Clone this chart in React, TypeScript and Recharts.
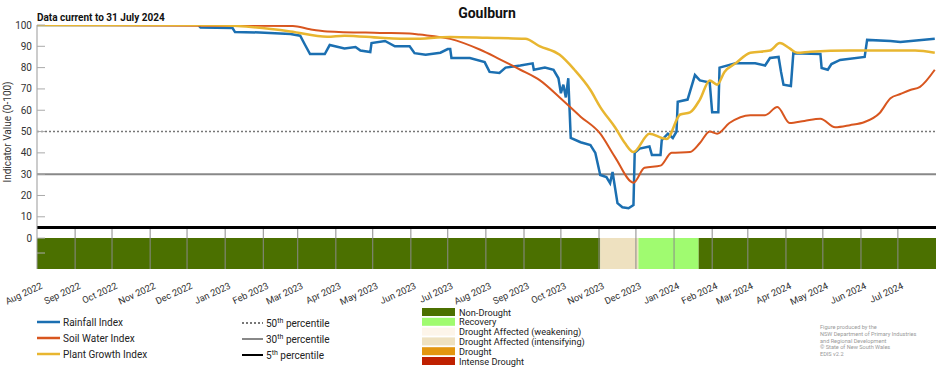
import {
	ComposedChart,
	Line,
	XAxis,
	YAxis,
	ReferenceLine,
	ReferenceArea,
} from "recharts";

// rainfall index (daily data, sampled at the step changes)
const rainfallDates = [
	"2022-08-01", "2022-12-10", "2022-12-12", "2023-01-07", "2023-01-09", "2023-01-29", "2023-02-23",
	"2023-03-03", "2023-03-07", "2023-03-11", "2023-03-23", "2023-03-27", "2023-04-08", "2023-04-17",
	"2023-04-21", "2023-04-29", "2023-04-30", "2023-05-11", "2023-05-19", "2023-05-31", "2023-06-04",
	"2023-06-13", "2023-06-25", "2023-07-01", "2023-07-03", "2023-07-04", "2023-07-19", "2023-07-31",
	"2023-08-04", "2023-08-12", "2023-08-17", "2023-08-29", "2023-09-08", "2023-09-09", "2023-09-18",
	"2023-09-25", "2023-09-29", "2023-10-01", "2023-10-03", "2023-10-05", "2023-10-07", "2023-10-09",
	"2023-10-17", "2023-10-25", "2023-10-29", "2023-11-02", "2023-11-07", "2023-11-10", "2023-11-12",
	"2023-11-16", "2023-11-20", "2023-11-25", "2023-11-29", "2023-11-30", "2023-12-04", "2023-12-12",
	"2023-12-14", "2023-12-21", "2023-12-22", "2023-12-27", "2023-12-31", "2024-01-03", "2024-01-04",
	"2024-01-12", "2024-01-18", "2024-01-22", "2024-01-30", "2024-02-01", "2024-02-06", "2024-02-07",
	"2024-02-20", "2024-03-07", "2024-03-15", "2024-03-19", "2024-03-26", "2024-03-28", "2024-03-30",
	"2024-04-05", "2024-04-07", "2024-04-29", "2024-04-30", "2024-05-05", "2024-05-08", "2024-05-15",
	"2024-06-04", "2024-06-06", "2024-06-25", "2024-07-03", "2024-07-31",
];
const rainfallValues = [
	100, 100, 98.8, 98.6, 96.7, 96.5, 95.8,
	95, 90.6, 86.4, 86.4, 90.6, 89, 89.7,
	88, 87.3, 91.5, 92.5, 90, 90, 86.8,
	86, 87, 88.7, 88.7, 84.5, 84.5, 82.6,
	78, 77.5, 80, 81, 82, 79, 80,
	79, 75, 68, 72, 66, 75, 47,
	45, 43.7, 40, 29.6, 28.6, 25.8, 31,
	16.4, 14.5, 14, 15.5, 40, 42, 43,
	39, 39, 46, 49, 47, 50, 64,
	65, 76.5, 74, 73, 59, 59, 80,
	82, 82, 81, 84.5, 85, 78, 72,
	71.4, 86.8, 86.4, 79.8, 79, 81.7, 83.6,
	85, 93, 92.5, 92, 93.5,
];

const soilDates = [
	"2022-08-01", "2023-02-25", "2023-03-11", "2023-03-25", "2023-05-07", "2023-05-31", "2023-06-08",
	"2023-07-03", "2023-07-27", "2023-08-12", "2023-08-29", "2023-09-14", "2023-09-30", "2023-10-17",
	"2023-11-02", "2023-11-14", "2023-11-29", "2023-12-08", "2023-12-21", "2023-12-30", "2024-01-14",
	"2024-01-22", "2024-01-30", "2024-02-05", "2024-02-15", "2024-03-03", "2024-03-15", "2024-03-25",
	"2024-04-04", "2024-04-16", "2024-04-29", "2024-05-11", "2024-05-23", "2024-06-04", "2024-06-16",
	"2024-06-25", "2024-07-03", "2024-07-11", "2024-07-19", "2024-07-31",
];
const soilValues = [
	100, 99.5, 98, 97, 96.3, 96, 95.5,
	93.5, 88.5, 84, 79, 74, 66, 57,
	49, 38, 26, 33, 34, 40, 40.4,
	44.6, 50, 49, 54, 57.7, 57.7, 61.5,
	54, 55, 56, 52, 53, 54.5, 58.6,
	65.6, 67.6, 69.5, 71, 79,
];

const plantDates = [
	"2022-08-01", "2022-12-20", "2023-01-11", "2023-02-23", "2023-03-25", "2023-04-08", "2023-05-07",
	"2023-06-02", "2023-07-03", "2023-08-02", "2023-09-02", "2023-09-14", "2023-09-30", "2023-10-12",
	"2023-10-25", "2023-11-02", "2023-11-14", "2023-11-22", "2023-11-29", "2023-12-12", "2023-12-22",
	"2023-12-26", "2024-01-06", "2024-01-14", "2024-01-22", "2024-01-30", "2024-02-05", "2024-02-11",
	"2024-02-20", "2024-03-03", "2024-03-19", "2024-03-27", "2024-04-04", "2024-04-10", "2024-04-21",
	"2024-05-23", "2024-06-16", "2024-07-15", "2024-07-31",
];
const plantValues = [
	100, 100, 99.5, 97, 94.5, 95, 94,
	93.5, 94.4, 94, 93.5, 90, 86, 79,
	69.5, 61.5, 52, 44.6, 40.4, 49, 47,
	46.5, 58, 59, 65, 74, 72, 78,
	82, 87, 88, 91.5, 89, 87, 87.5,
	88, 88, 88, 87,
];

const bandStarts = ["2022-08-01", "2023-11-02", "2023-12-03", "2024-01-21"];
const bandEnds = ["2023-11-02", "2023-12-03", "2024-01-21", "2024-08-01"];
const bandCats = ["Non-Drought", "Drought Affected (intensifying)", "Recovery", "Non-Drought"];

const monthTicks = [
	"2022-08-01", "2022-09-01", "2022-10-01", "2022-11-01", "2022-12-01", "2023-01-01",
	"2023-02-01", "2023-03-01", "2023-04-01", "2023-05-01", "2023-06-01", "2023-07-01",
	"2023-08-01", "2023-09-01", "2023-10-01", "2023-11-01", "2023-12-01", "2024-01-01",
	"2024-02-01", "2024-03-01", "2024-04-01", "2024-05-01", "2024-06-01", "2024-07-01",
];
const MONTHS = ["Jan", "Feb", "Mar", "Apr", "May", "Jun", "Jul", "Aug", "Sep", "Oct", "Nov", "Dec"];
const yTicks = [-7, 0, 10, 20, 30, 40, 50, 60, 70, 80, 90, 100];

const categories = [
	{ name: "Non-Drought", color: "#4b7000" },
	{ name: "Recovery", color: "#a0fb70" },
	{ name: "Drought Affected (weakening)", color: "#fdf5ea" },
	{ name: "Drought Affected (intensifying)", color: "#eee1c0" },
	{ name: "Drought", color: "#e3960f" },
	{ name: "Intense Drought", color: "#bf2000" },
];

const series = [
	{ name: "Rainfall Index", color: "#1b6fb1", width: 2.5 },
	{ name: "Soil Water Index", color: "#d8561f", width: 2 },
	{ name: "Plant Growth Index", color: "#e8b630", width: 2.5 },
];

const toT = (d: string) => Date.parse(d + "T00:00:00Z");
const zip = (dates: string[], vals: number[]) => dates.map((d, i) => ({ t: toT(d), v: vals[i] }));

const rainfallData = zip(rainfallDates, rainfallValues);
const soilData = zip(soilDates, soilValues);
const plantData = zip(plantDates, plantValues);

const T0 = toT("2022-08-01");
const T1 = toT("2024-08-01");
const YMIN = -14.5;
const PLOT_LEFT = 37;
const FONT = "Roboto, 'DejaVu Sans', sans-serif";

const fmtMonth = (t: number) => {
	const d = new Date(t);
	return `${MONTHS[d.getUTCMonth()]} ${d.getUTCFullYear()}`;
};

const XTick = ({ x, y, payload }: any) => (
	<text
		transform={`translate(${x + 6},${y + 19}) rotate(-25)`}
		textAnchor="end"
		fontSize={9.3}
		fill="#333"
		fontFamily={FONT}
	>
		{fmtMonth(payload.value)}
	</text>
);

const YTick = ({ y, payload }: any) => (
	<g>
		<line x1={PLOT_LEFT} x2={PLOT_LEFT + 8} y1={y} y2={y} stroke="#aaa" strokeWidth={1} />
		{payload.value >= 0 ? (
			<text x={PLOT_LEFT - 5} y={y + 3.5} textAnchor="end" fontSize={10} fill="#333" fontFamily={FONT}>
				{payload.value}
			</text>
		) : null}
	</g>
);

const catColor = (name: string) => categories.find((c) => c.name === name)!.color;

export default function App() {
	return (
		<div
			style={{
				position: "absolute",
				left: 0,
				top: 0,
				width: 952,
				height: 370,
				background: "#fff",
				fontFamily: FONT,
			}}
		>
			<ComposedChart width={952} height={370} margin={{ top: 25, right: 16, bottom: 71, left: 7 }}>
				<XAxis
					type="number"
					dataKey="t"
					domain={[T0, T1]}
					ticks={monthTicks.map(toT)}
					interval={0}
					tick={<XTick />}
					tickLine={false}
					axisLine={false}
					tickSize={0}
					tickMargin={0}
					height={30}
					allowDataOverflow
				/>
				<YAxis
					type="number"
					domain={[YMIN, 100]}
					ticks={yTicks}
					interval={0}
					tick={<YTick />}
					tickLine={false}
					axisLine={{ stroke: "#999", strokeWidth: 1 }}
					width={30}
					allowDataOverflow
				/>
				{bandCats.map((c, i) => (
					<ReferenceArea
						key={`band-${i}`}
						x1={toT(bandStarts[i])}
						x2={toT(bandEnds[i])}
						y1={YMIN}
						y2={0}
						fill={catColor(c)}
						fillOpacity={1}
						stroke="none"
					/>
				))}
				{monthTicks.slice(1).map((d) => (
					<ReferenceLine
						key={`grid-${d}`}
						segment={[
							{ x: toT(d), y: YMIN },
							{ x: toT(d), y: 5 },
						]}
						stroke="#8a8a8a"
						strokeWidth={1}
					/>
				))}
				<ReferenceLine y={50} stroke="#777" strokeWidth={1.5} strokeDasharray="2 2" />
				<ReferenceLine y={30} stroke="#888" strokeWidth={2} />
				<ReferenceLine y={5} stroke="#000" strokeWidth={3} />
				<Line
					data={rainfallData}
					dataKey="v"
					type="linear"
					stroke={series[0].color}
					strokeWidth={series[0].width}
					dot={false}
					isAnimationActive={false}
				/>
				<Line
					data={soilData}
					dataKey="v"
					type="monotone"
					stroke={series[1].color}
					strokeWidth={series[1].width}
					dot={false}
					isAnimationActive={false}
				/>
				<Line
					data={plantData}
					dataKey="v"
					type="monotone"
					stroke={series[2].color}
					strokeWidth={series[2].width}
					dot={false}
					isAnimationActive={false}
				/>
			</ComposedChart>
			<svg
				width={952}
				height={370}
				style={{ position: "absolute", left: 0, top: 0, pointerEvents: "none" }}
				fontFamily={FONT}
			>
				<text x={487} y={18} textAnchor="middle" fontSize={14} fontWeight="bold" fill="#111">
					Goulburn
				</text>
				<text x={37} y={21} fontSize={10} fontWeight="bold" fill="#111">
					Data current to 31 July 2024
				</text>
				<text
					transform="translate(11,132) rotate(-90)"
					textAnchor="middle"
					fontSize={10}
					fill="#333"
				>
					Indicator Value (0-100)
				</text>
				{series.map((s, i) => (
					<g key={s.name}>
						<line x1={37} x2={60} y1={322 + i * 16} y2={322 + i * 16} stroke={s.color} strokeWidth={2.5} />
						<text x={63} y={325.5 + i * 16} fontSize={10} fill="#222">
							{s.name}
						</text>
					</g>
				))}
				{[
					{ n: "50", dash: "2 2", color: "#777" },
					{ n: "30", dash: undefined, color: "#888" },
					{ n: "5", dash: undefined, color: "#000" },
				].map((p, i) => (
					<g key={p.n}>
						<line
							x1={242}
							x2={263}
							y1={323 + i * 16}
							y2={323 + i * 16}
							stroke={p.color}
							strokeWidth={2}
							strokeDasharray={p.dash}
						/>
						<text x={266} y={327 + i * 16} fontSize={10} fill="#222">
							{p.n}
							<tspan dy={-4} fontSize={7}>
								th
							</tspan>
							<tspan dy={4}> percentile</tspan>
						</text>
					</g>
				))}
				{categories.map((c, i) => (
					<g key={c.name}>
						<rect x={422} y={308 + i * 9.8} width={33} height={8} fill={c.color} />
						<text x={459} y={315.5 + i * 9.8} fontSize={9.2} fill="#222">
							{c.name}
						</text>
					</g>
				))}
				{[
					"Figure produced by the",
					"NSW Department of Primary Industries",
					"and Regional Development",
					"\u00a9 State of New South Wales",
					"EDIS v2.2",
				].map((s, i) => (
					<text key={s} x={820} y={329 + i * 6.8} fontSize={5.6} fill="#999">
						{s}
					</text>
				))}
			</svg>
		</div>
	);
}
